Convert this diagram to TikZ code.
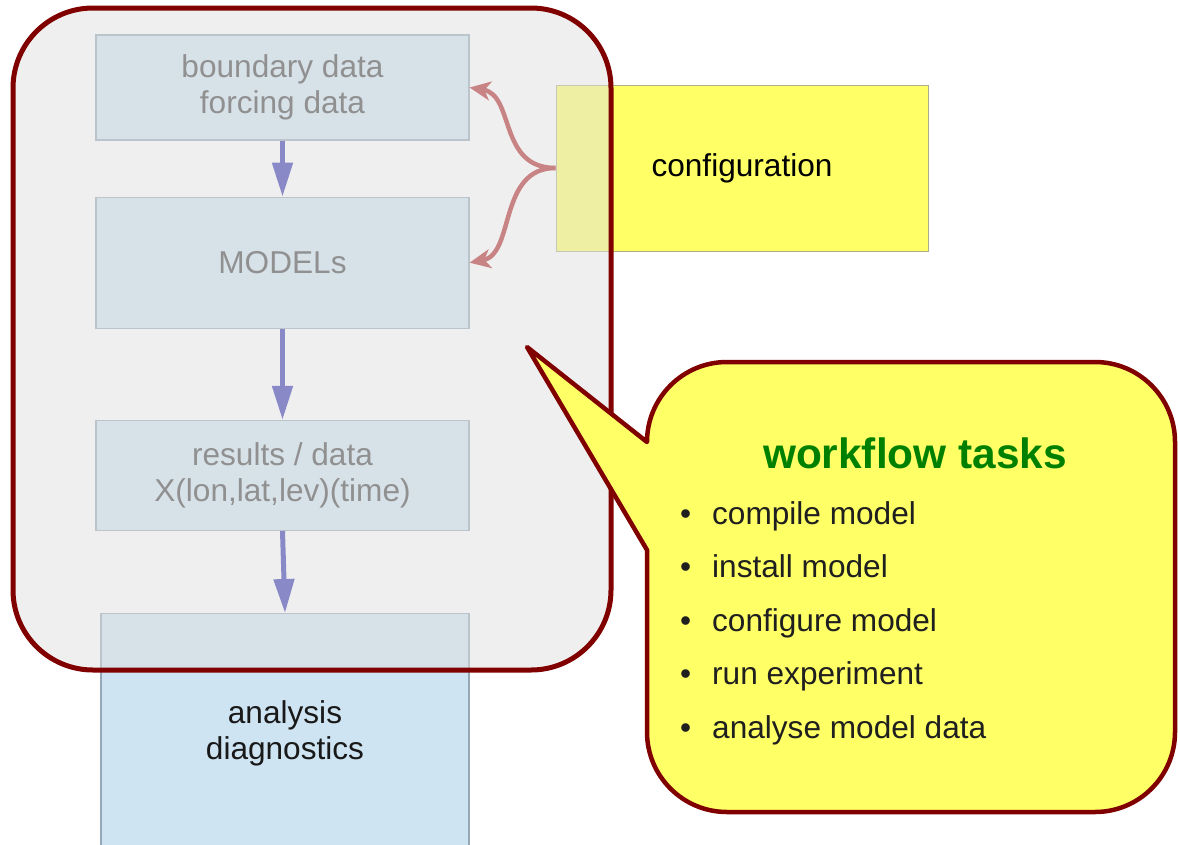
\documentclass[tikz,border=0pt]{standalone}
\usepackage{fontspec}
\setmainfont{Liberation Sans}
\usetikzlibrary{positioning, arrows.meta}
\definecolor{boxblue}{RGB}{207,228,242}
\definecolor{boxline}{RGB}{150,168,182}
\definecolor{flowblue}{RGB}{50,50,175}
\definecolor{cfgred}{RGB}{176,40,40}
\definecolor{darkred}{RGB}{128,0,0}
\definecolor{noteyellow}{RGB}{255,255,102}
\definecolor{cfgline}{RGB}{175,175,135}
\definecolor{veil}{RGB}{224,224,224}
\definecolor{titlegreen}{RGB}{0,128,0}
\tikzset{
  >={Triangle[length=34pt,width=20pt]},
  every node/.style={font=\fontsize{31.6}{36}\selectfont},
  databox/.style={draw=boxline, line width=1.2pt, fill=boxblue, minimum width=373pt,
    align=center, text=black!75},
  cfgbox/.style={draw=cfgline, line width=1pt, fill=noteyellow, minimum width=372pt,
    minimum height=166pt},
  flow/.style={->, draw=flowblue, line width=5pt},
  cfgarrow/.style={-{Stealth[length=21pt,width=19pt,inset=6pt]}, draw=cfgred, line width=4.5pt},
  veiled/.style={draw=darkred, line width=5pt, fill=veil, fill opacity=0.5,
    rounded corners=80pt, minimum width=598pt, minimum height=662pt},
  bubble/.style={draw=darkred, line width=4.5pt, fill=noteyellow, line join=round},
  tasktitle/.style={anchor=base, text=titlegreen, font=\fontsize{42.4}{48}\selectfont\bfseries},
  item/.style={anchor=base west, inner sep=0pt, text=black!88},
}

\begin{document}
\begin{tikzpicture}
    % image pixels, y grows downwards
    \tikzset{x=1pt, y=-1pt, node distance=56pt}
    \useasboundingbox (0,0) rectangle (1178,844);

    % configuration, partly under the veil
    \node[cfgbox] (conf) at (742,168) {configuration};

    % model chain
    \node[databox, minimum height=105pt] (bound) at (282.5,87.5) {boundary data\\forcing data};
    \node[databox, minimum height=131pt, below=of bound] (models) {MODELs};
    \node[databox, minimum height=110pt, below=91pt of models] (results) {results / data\\X(lon,lat,lev)(time)};
    \node[databox, minimum width=368pt, minimum height=240pt, below=82pt of results, xshift=2.5pt, text=black!90] (diag) {analysis\\diagnostics};

    % flow
    \draw[flow] (bound) -- (models);
    \draw[flow] (models) -- (results);
    \draw[flow] (results.south) -- (diag.north);

    % configuration feeds data and models
    \draw[cfgarrow] (conf.west) .. controls (498,168) and (515,95) .. (bound.east);
    \draw[cfgarrow] (conf.west) .. controls (498,168) and (515,254) .. (models.east);

    % veil over the chain
    \node[veiled] (chain) at (312,339) {};

    % speech bubble
    \draw[bubble] (647,550) -- (527,347) -- (647,442)
      arc[start angle=180, end angle=270, radius=80] -- (1095,362)
      arc[start angle=270, end angle=360, radius=80] -- (1175,732)
      arc[start angle=0, end angle=90, radius=80] -- (727,812)
      arc[start angle=90, end angle=180, radius=80] -- cycle;

    \node[tasktitle] (title) at (915,468) {workflow tasks};
    \node[item] (task1) at (680,524) {\makebox[32pt][l]{\textbullet}compile model};
    \node[item, below=53.5pt of task1.base west, anchor=base west] (task2) {\makebox[32pt][l]{\textbullet}install model};
    \node[item, below=53.5pt of task2.base west, anchor=base west] (task3) {\makebox[32pt][l]{\textbullet}configure model};
    \node[item, below=53.5pt of task3.base west, anchor=base west] (task4) {\makebox[32pt][l]{\textbullet}run experiment};
    \node[item, below=53.5pt of task4.base west, anchor=base west] (task5) {\makebox[32pt][l]{\textbullet}analyse model data};

\end{tikzpicture}
\end{document}
